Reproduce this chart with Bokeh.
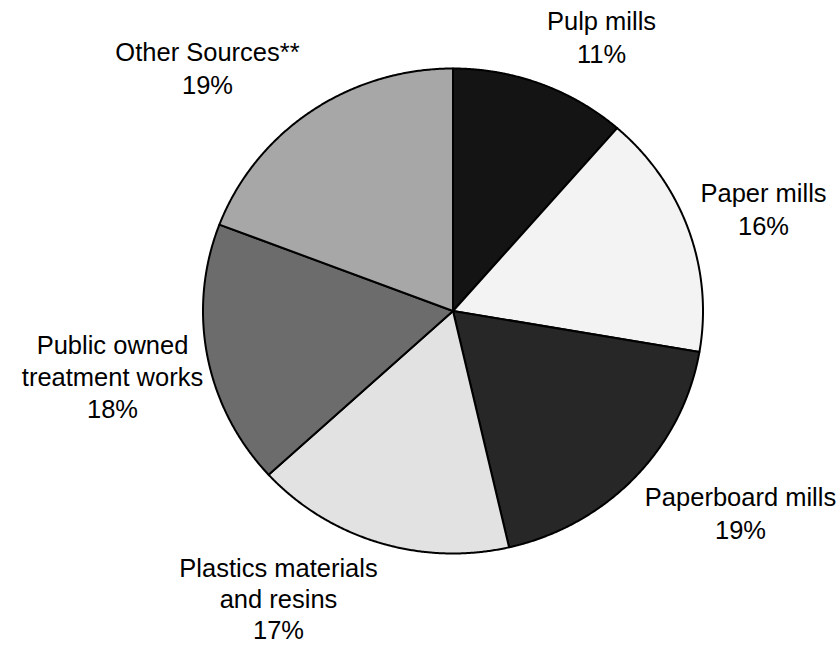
import numpy as np
from bokeh.plotting import figure
from bokeh.models import ColumnDataSource, Range1d
from bokeh.core.properties import value
from bokeh.embed import file_html
from bokeh.resources import INLINE

# ---- data ----
categories = ["Pulp mills", "Paper mills", "Paperboard mills",
              "Plastics materials and resins", "Public owned treatment works",
              "Other Sources**"]
shares = [11.4, 16.3, 18.7, 16.8, 17.6, 19.2]
pct_labels = ["11%", "16%", "19%", "17%", "18%", "19%"]
label_lines = [["Pulp mills"], ["Paper mills"], ["Paperboard mills"],
               ["Plastics materials", "and resins"],
               ["Public owned", "treatment works"], ["Other Sources**"]]

# ---- styles / layout ----
fills = ["#141414", "#f3f3f3", "#272727", "#e2e2e2", "#6c6c6c", "#a7a7a7"]
W, H = 840, 648
CX, CY = 452.5, 310.5          # pie centre on canvas (px)
RX, RY = 250.0, 242.5
# label anchor (centre x, first text line y, line spacing) in canvas px
label_pos = [(601, 20, 33), (763, 192, 33), (740, 496, 33),
             (278, 567, 31), (112, 344, 32), (207, 51, 33)]

p = figure(width=W, height=H, output_backend="svg", toolbar_location=None,
           x_axis_type=None, y_axis_type=None, min_border=0,
           x_range=Range1d(-CX, W - CX), y_range=Range1d(-(H - CY), CY))
p.outline_line_color = None
p.grid.visible = False
p.background_fill_color = "white"
p.border_fill_color = "white"

fr = np.array(shares) / sum(shares)
ends = np.pi / 2 - 2 * np.pi * np.cumsum(fr)
starts = np.concatenate([[np.pi / 2], ends[:-1]])
xs, ys = [], []
for a0, a1 in zip(starts, ends):
    t = np.linspace(a0, a1, 200)
    xs.append(np.concatenate([[0.0], RX * np.cos(t)]))
    ys.append(np.concatenate([[0.0], RY * np.sin(t)]))
src = ColumnDataSource(dict(xs=xs, ys=ys, fill=fills, name=categories))
p.patches("xs", "ys", source=src, fill_color="fill", line_color="black",
          line_width=2, line_join="round")

tx, ty, tt = [], [], []
for lines, pct, (lx, ly, gap) in zip(label_lines, pct_labels, label_pos):
    for k, s in enumerate(lines + [pct]):
        tx.append(lx - CX)
        ty.append(CY - (ly + k * gap))
        tt.append(s)
p.text(x=tx, y=ty, text=tt, text_font=value("Liberation Sans"),
       text_font_size="25.5px", text_align="center",
       text_baseline="alphabetic", text_color="black")

open("out.html", "w").write(file_html(p, INLINE))
